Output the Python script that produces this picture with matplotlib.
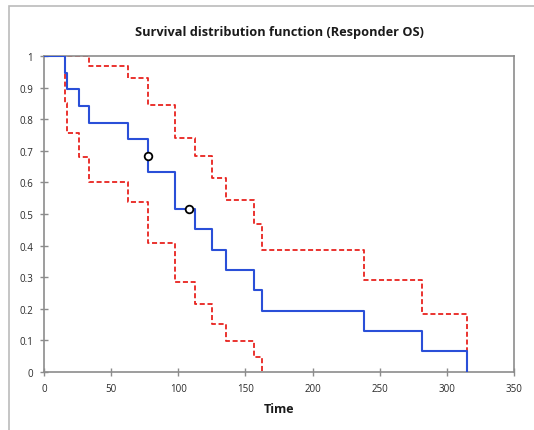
import matplotlib
matplotlib.use("Agg")
import matplotlib.pyplot as plt
from matplotlib.patches import Rectangle

# Kaplan-Meier estimate (step, post)
km_time = [0, 16, 17.5, 26.3, 33.7, 62.8, 77.2, 97.5, 112.4, 125.3, 135.2, 156.4, 162.6, 238.5, 281.2, 314.7]
km_surv = [1, 0.947, 0.895, 0.842, 0.789, 0.737, 0.632, 0.516, 0.451, 0.387, 0.322, 0.258, 0.194, 0.129, 0.065, 0]

# Lower confidence bound
lo_time = [0, 16, 17.5, 26.3, 33.7, 62.8, 77.2, 97.5, 112.4, 125.3, 135.2, 156.4, 162.6]
lo_surv = [1, 0.85, 0.757, 0.679, 0.602, 0.539, 0.409, 0.286, 0.215, 0.152, 0.099, 0.048, 0]

# Upper confidence bound
up_time = [0, 33.7, 62.8, 77.2, 97.5, 112.4, 125.3, 135.2, 156.4, 162.6, 238.5, 281.2, 314.7]
up_surv = [1, 0.967, 0.930, 0.846, 0.741, 0.682, 0.614, 0.544, 0.468, 0.387, 0.291, 0.184, 0]

# Censored observations
cens_time = [77.2, 108.2]
cens_surv = [0.684, 0.516]

x_ticks = [0, 50, 100, 150, 200, 250, 300, 350]
y_ticks = [0, 0.1, 0.2, 0.3, 0.4, 0.5, 0.6, 0.7, 0.8, 0.9, 1]
y_labels = ["0", "0.1", "0.2", "0.3", "0.4", "0.5", "0.6", "0.7", "0.8", "0.9", "1"]

plt.rcParams['font.family'] = ['Open Sans', 'DejaVu Sans']

fig = plt.figure(figsize=(5.34, 4.31), dpi=100)
fig.patches.append(Rectangle((9/534, -0.1), 1.2, (1 - 7/431) + 0.1, transform=fig.transFigure,
                             fill=False, edgecolor='#bbbbbb', linewidth=1.2))
ax = fig.add_axes([44/534, 1 - 373/431, 470/534, 316/431])

red = '#e8231f'
blue = '#2a4fd8'
ax.step(lo_time, lo_surv, where='post', color=red, linestyle=(0, (2.8, 1.5)), linewidth=1.3, zorder=2)
ax.step(up_time, up_surv, where='post', color=red, linestyle=(0, (2.8, 1.5)), linewidth=1.3, zorder=2)
ax.step(km_time, km_surv, where='post', color=blue, linewidth=1.5, zorder=3)
ax.plot(cens_time, cens_surv, linestyle='none', marker='o', markersize=5.5,
        markerfacecolor='white', markeredgecolor='black', markeredgewidth=1.3, zorder=4)

ax.set_xlim(0, 350)
ax.set_ylim(0, 1)
ax.set_xticks(x_ticks)
ax.set_yticks(y_ticks)
ax.set_yticklabels(y_labels)
for s in ax.spines.values():
    s.set_color('#8c8c8c')
    s.set_linewidth(1.2)
ax.tick_params(direction='inout', length=6, width=1, color='#8c8c8c', labelsize=7, labelcolor='#2a2a2a')
ax.tick_params(axis='x', pad=5)
ax.tick_params(axis='y', pad=5)

ax.set_title('Survival distribution function (Responder OS)', fontsize=9.2, fontweight='bold', pad=15, color='#1a1a1a')
ax.set_xlabel('Time', fontsize=9, fontweight='bold', labelpad=6, color='#1a1a1a')

fig.savefig('out.png', dpi=100)
